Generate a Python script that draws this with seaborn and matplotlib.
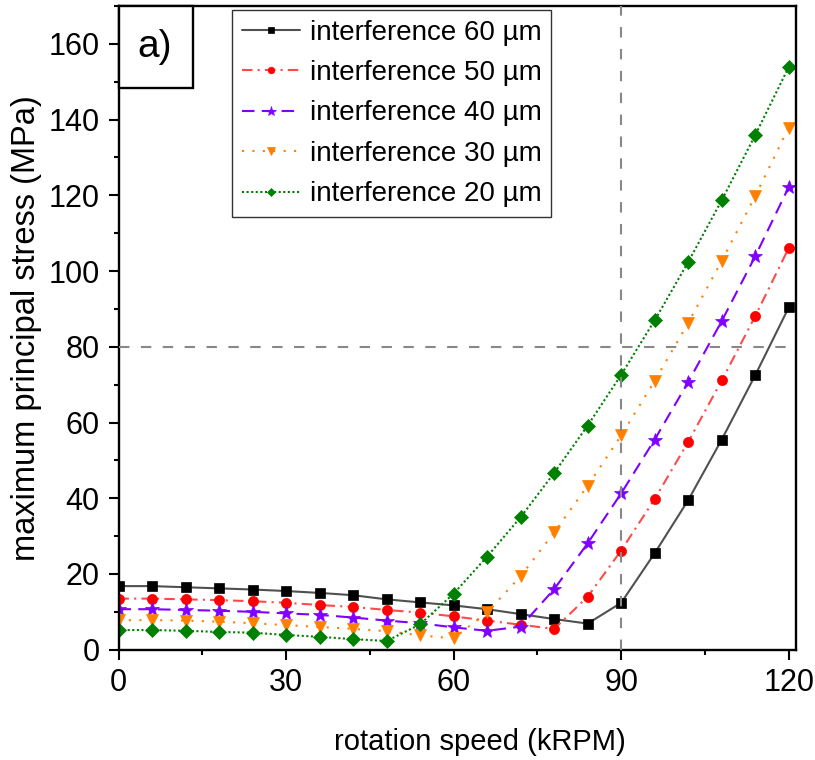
import pandas as pd
import matplotlib.pyplot as plt
from matplotlib.patches import Rectangle
from matplotlib.ticker import MultipleLocator
import seaborn as sns

# rotation speed (kRPM)
speed = [0, 6, 12, 18, 24, 30, 36, 42, 48, 54, 60, 66, 72, 78, 84, 90, 96, 102, 108, 114, 120]

# maximum principal stress (MPa) per interference
s60 = [16.8, 16.8, 16.5, 16.2, 15.9, 15.5, 15.0, 14.4, 13.3, 12.5, 11.7, 10.7, 9.4, 8.1, 6.9,
       12.4, 25.5, 39.5, 55.5, 72.5, 90.4]
s50 = [13.5, 13.5, 13.3, 13.1, 12.8, 12.4, 11.8, 11.3, 10.5, 9.8, 8.8, 7.7, 6.6, 5.5, 14.0,
       26.2, 39.8, 54.9, 71.1, 88.1, 106.1]
s40 = [10.7, 10.7, 10.5, 10.3, 10.0, 9.6, 9.2, 8.5, 7.7, 7.0, 5.9, 5.0, 6.1, 16.0, 28.1,
       41.3, 55.5, 70.7, 86.8, 103.9, 122.2]
s30 = [7.8, 7.8, 7.7, 7.4, 7.0, 6.5, 6.0, 5.5, 4.9, 3.8, 3.0, 9.9, 19.4, 31.0, 43.3,
       56.6, 71.0, 86.3, 102.7, 119.8, 137.9]
s20 = [5.2, 5.2, 5.0, 4.7, 4.5, 3.9, 3.4, 2.8, 2.3, 6.7, 14.8, 24.6, 35.0, 46.7, 59.2,
       72.6, 87.0, 102.4, 118.7, 135.9, 153.9]

labels = ['interference 60 µm', 'interference 50 µm', 'interference 40 µm',
          'interference 30 µm', 'interference 20 µm']

# reference lines
ref_speed = 90
ref_stress = 80

sns.set_style('ticks')
plt.rcParams['font.family'] = ['Liberation Sans', 'DejaVu Sans']
plt.rcParams['text.color'] = 'black'
plt.rcParams['axes.labelcolor'] = 'black'
plt.rcParams['xtick.color'] = 'black'
plt.rcParams['ytick.color'] = 'black'

fig = plt.figure(figsize=(8.15, 7.6), dpi=100)
ax = fig.add_axes([0.1454, 0.1451, 0.8313, 0.847])

# line colour, marker colour, marker, marker size, dash pattern
styles = [
    ('#505050', 'black', 's', 7.3, '-'),
    ('#ff4a4a', '#ff0000', 'o', 7.3, (0, (5, 2.5, 1, 2.5))),
    ('#8000ff', '#8000ff', '*', 10.5, (0, (6, 3.5))),
    ('#ff8000', '#ff8000', 'v', 9, (0, (1, 4))),
    ('#008000', '#008000', 'D', 7, (0, (1, 1.2))),
]

for vals, lab, (lc, mc, mk, ms, ls) in zip([s60, s50, s40, s30, s20], labels, styles):
    df = pd.DataFrame({'speed': speed, 'stress': vals})
    sns.lineplot(data=df, x='speed', y='stress', ax=ax, color=lc, lw=1.5,
                 linestyle=ls, marker=mk, markersize=ms, markerfacecolor=mc,
                 markeredgecolor=mc, markeredgewidth=0.5, label=lab,
                 errorbar=None, sort=False)

ax.hlines(ref_stress, 0, 120, colors='#888888', linestyles=(0, (5, 5.5)), lw=1.5, zorder=5)
ax.axvline(ref_speed, color='#888888', linestyle=(0, (5, 5.5)), lw=1.5, zorder=5)

ax.set_xlim(0, 121.3)
ax.set_ylim(0, 170)
ax.xaxis.set_major_locator(MultipleLocator(30))
ax.xaxis.set_minor_locator(MultipleLocator(15))
ax.yaxis.set_major_locator(MultipleLocator(20))
ax.yaxis.set_minor_locator(MultipleLocator(10))
ax.tick_params(which='major', length=7.5, width=1.5, labelsize=22, pad=6, direction='out')
ax.tick_params(which='minor', length=3.8, width=1.5, direction='out')
for sp in ax.spines.values():
    sp.set_linewidth(1.7)
    sp.set_color('black')

ax.set_xlabel('rotation speed (kRPM)', fontsize=21)
ax.xaxis.set_label_coords(0.534, -0.122)
ax.set_ylabel('maximum principal stress (MPa)', fontsize=23.5, labelpad=5)

# panel tag
ax.add_patch(Rectangle((0, 0.8726), 0.110, 0.1274, transform=ax.transAxes,
                       facecolor='white', edgecolor='black', lw=1.7, zorder=6, clip_on=False))
ax.text(0.054, 0.936, 'a)', transform=ax.transAxes, fontsize=28,
        ha='center', va='center', zorder=7)

leg = ax.legend(loc='upper left', bbox_to_anchor=(0.1675, 0.994), borderaxespad=0,
                fontsize=20, frameon=True, fancybox=False, edgecolor='#333333',
                framealpha=1, markerscale=0.65, handlelength=2.1, handletextpad=0.35,
                labelspacing=0.52, borderpad=0.35)
leg.get_frame().set_linewidth(1.0)
leg.set_zorder(8)

fig.savefig('out.png', dpi=100)
